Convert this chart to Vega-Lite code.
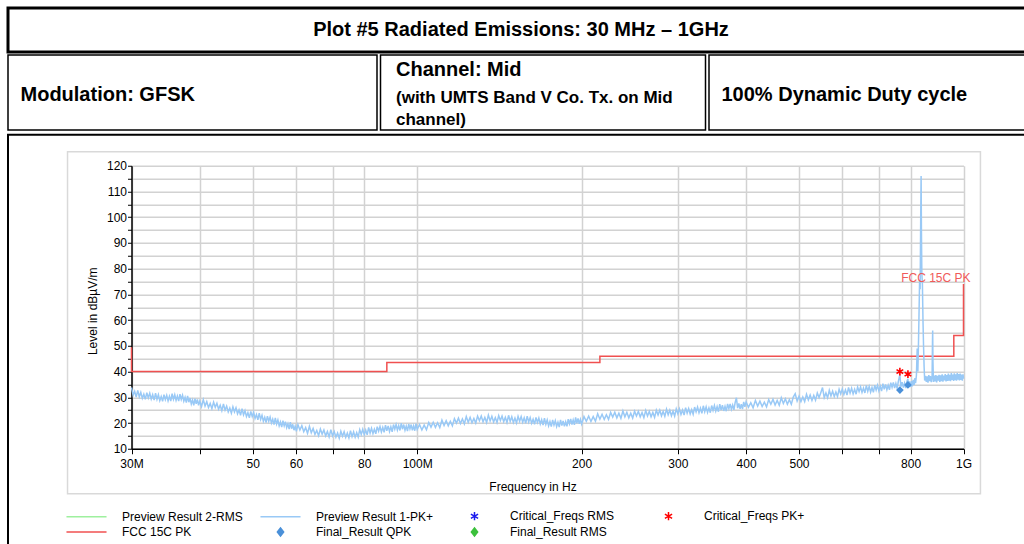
{
  "$schema": "https://vega.github.io/schema/vega-lite/v6.json",
  "usermeta": {"embedOptions": {"actions": false}},
  "background": "white",
  "padding": {"left": 6, "top": 6, "right": 0, "bottom": 0},
  "spacing": 2.75,
  "config": {
    "font": "Liberation Sans",
    "view": {"stroke": null},
    "text": {"font": "Liberation Sans", "color": "black"}
  },
  "datasets": {
    "trace": [
      {"MHz":30.0,"dB":33.8},{"MHz":30.2,"dB":30.8},{"MHz":30.4,"dB":32.3},{"MHz":30.6,"dB":30.1},{"MHz":30.8,"dB":32.7},{"MHz":31.0,"dB":30.2},{"MHz":31.2,"dB":31.9},{"MHz":31.4,"dB":29.6},{"MHz":31.6,"dB":31.2},{"MHz":31.8,"dB":29.2},{"MHz":32.0,"dB":31.8},{"MHz":32.2,"dB":29.8},{"MHz":32.4,"dB":31.6},{"MHz":32.6,"dB":29.3},{"MHz":32.8,"dB":31.0},{"MHz":33.0,"dB":28.9},{"MHz":33.2,"dB":31.6},{"MHz":33.4,"dB":29.2},{"MHz":33.6,"dB":31.0},{"MHz":33.8,"dB":28.7},{"MHz":34.0,"dB":30.3},{"MHz":34.2,"dB":28.4},{"MHz":34.4,"dB":31.0},{"MHz":34.6,"dB":29.1},{"MHz":34.8,"dB":30.8},{"MHz":35.0,"dB":28.6},{"MHz":35.2,"dB":30.4},{"MHz":35.4,"dB":28.5},{"MHz":35.6,"dB":31.4},{"MHz":35.8,"dB":29.2},{"MHz":36.0,"dB":31.0},{"MHz":36.2,"dB":28.8},{"MHz":36.4,"dB":30.5},{"MHz":36.6,"dB":28.5},{"MHz":36.8,"dB":31.2},{"MHz":37.0,"dB":29.2},{"MHz":37.2,"dB":30.8},{"MHz":37.4,"dB":28.5},{"MHz":37.6,"dB":30.0},{"MHz":37.8,"dB":27.9},{"MHz":38.0,"dB":30.5},{"MHz":38.2,"dB":28.1},{"MHz":38.4,"dB":29.7},{"MHz":38.6,"dB":27.4},{"MHz":38.8,"dB":28.9},{"MHz":39.0,"dB":26.9},{"MHz":39.2,"dB":29.5},{"MHz":39.4,"dB":27.5},{"MHz":39.6,"dB":29.2},{"MHz":39.8,"dB":26.9},{"MHz":40.0,"dB":28.5},
      {"MHz":40.3,"dB":26.4},{"MHz":40.6,"dB":29.1},{"MHz":40.9,"dB":26.6},{"MHz":41.2,"dB":28.3},{"MHz":41.5,"dB":26.0},{"MHz":41.8,"dB":27.6},{"MHz":42.1,"dB":25.6},{"MHz":42.4,"dB":28.1},{"MHz":42.7,"dB":26.1},{"MHz":43.0,"dB":27.7},{"MHz":43.3,"dB":25.4},{"MHz":43.6,"dB":26.9},{"MHz":43.9,"dB":24.8},{"MHz":44.2,"dB":27.4},{"MHz":44.5,"dB":25.0},{"MHz":44.8,"dB":26.6},{"MHz":45.1,"dB":24.3},{"MHz":45.4,"dB":25.8},{"MHz":45.7,"dB":23.8},{"MHz":46.0,"dB":26.3},{"MHz":46.3,"dB":24.3},{"MHz":46.6,"dB":25.9},{"MHz":46.9,"dB":23.6},{"MHz":47.2,"dB":25.1},{"MHz":47.5,"dB":23.0},{"MHz":47.8,"dB":25.6},{"MHz":48.1,"dB":23.2},{"MHz":48.4,"dB":24.8},{"MHz":48.7,"dB":22.5},{"MHz":49.0,"dB":24.0},{"MHz":49.3,"dB":22.0},{"MHz":49.6,"dB":24.5},{"MHz":49.9,"dB":22.5},{"MHz":50.2,"dB":24.1},{"MHz":50.5,"dB":21.8},{"MHz":50.8,"dB":23.3},{"MHz":51.1,"dB":21.2},{"MHz":51.4,"dB":23.8},{"MHz":51.7,"dB":21.4},{"MHz":52.0,"dB":23.0},{"MHz":52.3,"dB":20.7},{"MHz":52.6,"dB":22.2},{"MHz":52.9,"dB":20.2},{"MHz":53.2,"dB":22.7},{"MHz":53.5,"dB":20.7},{"MHz":53.8,"dB":22.3},{"MHz":54.1,"dB":20.0},{"MHz":54.4,"dB":21.5},{"MHz":54.7,"dB":19.4},{"MHz":55.0,"dB":22.0},{"MHz":55.3,"dB":19.6},{"MHz":55.6,"dB":21.2},{"MHz":55.9,"dB":18.9},{"MHz":56.2,"dB":20.4},{"MHz":56.5,"dB":18.4},{"MHz":56.8,"dB":20.9},{"MHz":57.1,"dB":18.9},{"MHz":57.4,"dB":20.5},{"MHz":57.7,"dB":18.2},{"MHz":58.0,"dB":19.7},{"MHz":58.3,"dB":17.6},{"MHz":58.6,"dB":20.3},{"MHz":58.9,"dB":17.8},{"MHz":59.2,"dB":19.5},{"MHz":59.5,"dB":17.2},{"MHz":59.8,"dB":18.8},{"MHz":60.1,"dB":16.8},
      {"MHz":60.5,"dB":19.4},{"MHz":61.0,"dB":17.3},{"MHz":61.5,"dB":19.0},{"MHz":62.0,"dB":16.6},{"MHz":62.5,"dB":18.2},{"MHz":63.0,"dB":16.0},{"MHz":63.5,"dB":18.7},{"MHz":64.0,"dB":16.2},{"MHz":64.5,"dB":17.9},{"MHz":65.0,"dB":15.6},{"MHz":65.5,"dB":17.1},{"MHz":66.0,"dB":15.1},{"MHz":66.5,"dB":17.7},{"MHz":67.0,"dB":15.7},{"MHz":67.5,"dB":17.3},{"MHz":68.0,"dB":15.0},{"MHz":68.5,"dB":16.7},{"MHz":69.0,"dB":14.6},{"MHz":69.5,"dB":17.4},{"MHz":70.0,"dB":15.0},{"MHz":70.5,"dB":16.7},{"MHz":71.0,"dB":14.5},{"MHz":71.5,"dB":16.1},{"MHz":72.0,"dB":14.1},{"MHz":72.5,"dB":16.8},{"MHz":73.0,"dB":14.9},{"MHz":73.5,"dB":16.6},{"MHz":74.0,"dB":14.4},{"MHz":74.5,"dB":16.1},{"MHz":75.0,"dB":14.2},{"MHz":75.5,"dB":17.0},{"MHz":76.0,"dB":14.7},{"MHz":76.5,"dB":16.6},{"MHz":77.0,"dB":14.5},{"MHz":77.5,"dB":16.3},{"MHz":78.0,"dB":14.5},{"MHz":78.5,"dB":17.4},{"MHz":79.0,"dB":15.6},{"MHz":79.5,"dB":17.6},{"MHz":80.0,"dB":15.5},{"MHz":80.5,"dB":17.3},{"MHz":81.0,"dB":15.4},{"MHz":81.5,"dB":18.3},{"MHz":82.0,"dB":16.1},{"MHz":82.5,"dB":18.0},{"MHz":83.0,"dB":15.9},{"MHz":83.5,"dB":17.6},{"MHz":84.0,"dB":15.8},{"MHz":84.5,"dB":18.6},{"MHz":85.0,"dB":16.8},{"MHz":85.5,"dB":18.6},{"MHz":86.0,"dB":16.5},{"MHz":86.5,"dB":18.3},{"MHz":87.0,"dB":16.4},{"MHz":87.5,"dB":19.2},{"MHz":88.0,"dB":17.0},{"MHz":88.5,"dB":18.9},{"MHz":89.0,"dB":16.7},{"MHz":89.5,"dB":18.5},{"MHz":90.0,"dB":16.6},{"MHz":90.5,"dB":19.4},{"MHz":91.0,"dB":17.6},{"MHz":91.5,"dB":19.4},{"MHz":92.0,"dB":17.3},{"MHz":92.5,"dB":19.0},{"MHz":93.0,"dB":17.1},{"MHz":93.5,"dB":19.9},{"MHz":94.0,"dB":17.6},{"MHz":94.5,"dB":19.4},{"MHz":95.0,"dB":17.2},{"MHz":95.5,"dB":18.8},{"MHz":96.0,"dB":16.9},{"MHz":96.5,"dB":19.6},{"MHz":97.0,"dB":17.7},{"MHz":97.5,"dB":19.4},{"MHz":98.0,"dB":17.2},{"MHz":98.5,"dB":18.9},{"MHz":99.0,"dB":17.0},{"MHz":99.5,"dB":19.8},{"MHz":100.0,"dB":17.5},
      {"MHz":101,"dB":19.4},{"MHz":102,"dB":17.3},{"MHz":103,"dB":19.2},{"MHz":104,"dB":17.4},{"MHz":105,"dB":20.2},{"MHz":106,"dB":18.4},{"MHz":107,"dB":20.3},{"MHz":108,"dB":18.3},{"MHz":109,"dB":20.1},{"MHz":110,"dB":18.2},{"MHz":111,"dB":21.1},{"MHz":112,"dB":19.0},{"MHz":113,"dB":20.9},{"MHz":114,"dB":18.9},{"MHz":115,"dB":20.7},{"MHz":116,"dB":18.9},{"MHz":117,"dB":21.7},{"MHz":118,"dB":20.0},{"MHz":119,"dB":21.9},{"MHz":120,"dB":19.8},{"MHz":121,"dB":21.6},{"MHz":122,"dB":19.7},{"MHz":123,"dB":22.5},{"MHz":124,"dB":20.3},{"MHz":125,"dB":22.2},{"MHz":126,"dB":20.1},{"MHz":127,"dB":21.8},{"MHz":128,"dB":20.0},{"MHz":129,"dB":22.7},{"MHz":130,"dB":20.9},{"MHz":131,"dB":22.7},{"MHz":132,"dB":20.5},{"MHz":133,"dB":22.2},{"MHz":134,"dB":20.2},{"MHz":135,"dB":23.1},{"MHz":136,"dB":20.8},{"MHz":137,"dB":22.6},{"MHz":138,"dB":20.4},{"MHz":139,"dB":22.1},{"MHz":140,"dB":20.2},{"MHz":141,"dB":22.9},{"MHz":142,"dB":21.0},{"MHz":143,"dB":22.7},{"MHz":144,"dB":20.5},{"MHz":145,"dB":22.2},{"MHz":146,"dB":20.2},{"MHz":147,"dB":23.0},{"MHz":148,"dB":20.6},{"MHz":149,"dB":22.4},{"MHz":150,"dB":20.2},{"MHz":151,"dB":21.9},{"MHz":152,"dB":20.0},{"MHz":153,"dB":22.6},{"MHz":154,"dB":20.7},{"MHz":155,"dB":22.5},{"MHz":156,"dB":20.3},{"MHz":157,"dB":22.0},{"MHz":158,"dB":19.9},{"MHz":159,"dB":22.7},{"MHz":160,"dB":20.4},{"MHz":161,"dB":22.1},{"MHz":162,"dB":19.9},{"MHz":163,"dB":21.5},{"MHz":164,"dB":19.5},{"MHz":165,"dB":22.2},{"MHz":166,"dB":20.2},{"MHz":167,"dB":21.9},{"MHz":168,"dB":19.6},{"MHz":169,"dB":21.3},{"MHz":170,"dB":19.2},{"MHz":171,"dB":21.9},{"MHz":172,"dB":19.5},{"MHz":173,"dB":21.2},{"MHz":174,"dB":18.9},{"MHz":175,"dB":20.6},{"MHz":176,"dB":18.6},{"MHz":177,"dB":21.2},{"MHz":178,"dB":19.2},{"MHz":179,"dB":20.9},{"MHz":180,"dB":18.6},{"MHz":181,"dB":20.3},{"MHz":182,"dB":18.4},{"MHz":183,"dB":21.2},{"MHz":184,"dB":19.0},{"MHz":185,"dB":20.8},{"MHz":186,"dB":18.7},{"MHz":187,"dB":20.5},{"MHz":188,"dB":18.7},{"MHz":189,"dB":21.5},{"MHz":190,"dB":19.7},{"MHz":191,"dB":21.6},{"MHz":192,"dB":19.4},{"MHz":193,"dB":21.2},{"MHz":194,"dB":19.3},{"MHz":195,"dB":22.2},{"MHz":196,"dB":19.9},{"MHz":197,"dB":21.8},{"MHz":198,"dB":19.7},{"MHz":199,"dB":21.4},{"MHz":200,"dB":19.6},
      {"MHz":202,"dB":22.5},{"MHz":204,"dB":20.7},{"MHz":206,"dB":22.7},{"MHz":208,"dB":20.6},{"MHz":210,"dB":22.5},{"MHz":212,"dB":20.7},{"MHz":214,"dB":23.6},{"MHz":216,"dB":21.5},{"MHz":218,"dB":23.4},{"MHz":220,"dB":21.4},{"MHz":222,"dB":23.2},{"MHz":224,"dB":21.4},{"MHz":226,"dB":24.1},{"MHz":228,"dB":22.3},{"MHz":230,"dB":24.2},{"MHz":232,"dB":22.0},{"MHz":234,"dB":23.8},{"MHz":236,"dB":21.8},{"MHz":238,"dB":24.7},{"MHz":240,"dB":22.4},{"MHz":242,"dB":24.2},{"MHz":244,"dB":22.0},{"MHz":246,"dB":23.8},{"MHz":248,"dB":21.9},{"MHz":250,"dB":24.6},{"MHz":252,"dB":22.7},{"MHz":254,"dB":24.5},{"MHz":256,"dB":22.4},{"MHz":258,"dB":24.1},{"MHz":260,"dB":22.1},{"MHz":262,"dB":24.9},{"MHz":264,"dB":22.7},{"MHz":266,"dB":24.5},{"MHz":268,"dB":22.4},{"MHz":270,"dB":24.1},{"MHz":272,"dB":22.2},{"MHz":274,"dB":25.0},{"MHz":276,"dB":23.1},{"MHz":278,"dB":25.0},{"MHz":280,"dB":22.8},{"MHz":282,"dB":24.5},{"MHz":284,"dB":22.6},{"MHz":286,"dB":25.4},{"MHz":288,"dB":23.2},{"MHz":290,"dB":25.0},{"MHz":292,"dB":22.8},{"MHz":294,"dB":24.6},{"MHz":296,"dB":22.7},{"MHz":298,"dB":25.5},{"MHz":300,"dB":23.6},{"MHz":302,"dB":25.5},{"MHz":304,"dB":23.3},{"MHz":306,"dB":25.1},{"MHz":308,"dB":23.1},{"MHz":310,"dB":26.0},{"MHz":312,"dB":23.8},{"MHz":314,"dB":25.6},{"MHz":316,"dB":23.5},{"MHz":318,"dB":25.2},{"MHz":320,"dB":23.4},{"MHz":322,"dB":26.2},{"MHz":324,"dB":24.3},{"MHz":326,"dB":26.2},{"MHz":328,"dB":24.0},{"MHz":330,"dB":25.8},{"MHz":332,"dB":23.8},{"MHz":334,"dB":26.7},{"MHz":336,"dB":24.4},{"MHz":338,"dB":26.3},{"MHz":340,"dB":24.1},{"MHz":342,"dB":25.9},{"MHz":344,"dB":24.0},{"MHz":346,"dB":26.8},{"MHz":348,"dB":24.9},{"MHz":350,"dB":26.8},{"MHz":352,"dB":24.6},{"MHz":354,"dB":26.4},{"MHz":356,"dB":24.4},{"MHz":358,"dB":27.3},{"MHz":360,"dB":25.0},{"MHz":362,"dB":26.9},{"MHz":364,"dB":24.7},{"MHz":366,"dB":26.5},{"MHz":368,"dB":24.6},{"MHz":370,"dB":27.4},{"MHz":372,"dB":25.6},{"MHz":374,"dB":27.4},{"MHz":376,"dB":25.3},{"MHz":378,"dB":27.0},{"MHz":380,"dB":25.1},{"MHz":382,"dB":28.0},{"MHz":384,"dB":29.8},{"MHz":386,"dB":25.8},{"MHz":388,"dB":27.6},{"MHz":390,"dB":25.5},{"MHz":392,"dB":27.3},{"MHz":394,"dB":25.4},{"MHz":396,"dB":28.2},{"MHz":398,"dB":26.3},{"MHz":400,"dB":28.2},
      {"MHz":404,"dB":26.1},{"MHz":408,"dB":27.9},{"MHz":412,"dB":25.9},{"MHz":416,"dB":28.8},{"MHz":420,"dB":26.6},{"MHz":424,"dB":28.5},{"MHz":428,"dB":26.4},{"MHz":432,"dB":28.1},{"MHz":436,"dB":26.3},{"MHz":440,"dB":29.1},{"MHz":444,"dB":27.3},{"MHz":448,"dB":29.2},{"MHz":452,"dB":27.0},{"MHz":456,"dB":28.8},{"MHz":460,"dB":26.9},{"MHz":464,"dB":29.8},{"MHz":468,"dB":27.6},{"MHz":472,"dB":29.4},{"MHz":476,"dB":27.3},{"MHz":480,"dB":29.1},{"MHz":484,"dB":27.3},{"MHz":488,"dB":30.1},{"MHz":492,"dB":31.4},{"MHz":496,"dB":28.5},{"MHz":500,"dB":30.4},{"MHz":504,"dB":28.3},{"MHz":508,"dB":30.1},{"MHz":512,"dB":28.3},{"MHz":516,"dB":31.2},{"MHz":520,"dB":29.0},{"MHz":524,"dB":30.9},{"MHz":528,"dB":28.8},{"MHz":532,"dB":30.7},{"MHz":536,"dB":28.9},{"MHz":540,"dB":31.7},{"MHz":544,"dB":29.9},{"MHz":548,"dB":31.8},{"MHz":552,"dB":33.8},{"MHz":556,"dB":29.9},{"MHz":560,"dB":31.7},{"MHz":564,"dB":29.8},{"MHz":568,"dB":32.7},{"MHz":572,"dB":30.5},{"MHz":576,"dB":32.4},{"MHz":580,"dB":30.3},{"MHz":584,"dB":32.1},{"MHz":588,"dB":30.3},{"MHz":592,"dB":33.1},{"MHz":596,"dB":31.3},{"MHz":600,"dB":33.2},{"MHz":604,"dB":31.1},{"MHz":608,"dB":32.9},{"MHz":612,"dB":30.9},{"MHz":616,"dB":33.8},{"MHz":620,"dB":31.6},{"MHz":624,"dB":33.5},{"MHz":628,"dB":31.3},{"MHz":632,"dB":33.1},{"MHz":636,"dB":31.2},{"MHz":640,"dB":34.0},{"MHz":644,"dB":32.2},{"MHz":648,"dB":34.0},{"MHz":652,"dB":31.9},{"MHz":656,"dB":33.6},{"MHz":660,"dB":31.7},{"MHz":664,"dB":34.6},{"MHz":668,"dB":32.3},{"MHz":672,"dB":34.2},{"MHz":676,"dB":32.0},{"MHz":680,"dB":33.8},{"MHz":684,"dB":31.9},{"MHz":688,"dB":34.7},{"MHz":692,"dB":32.8},{"MHz":696,"dB":34.7},{"MHz":700,"dB":32.5},{"MHz":704,"dB":34.3},{"MHz":708,"dB":32.4},{"MHz":712,"dB":35.3},{"MHz":716,"dB":33.1},{"MHz":720,"dB":35.0},{"MHz":724,"dB":32.9},{"MHz":728,"dB":34.7},{"MHz":732,"dB":32.9},{"MHz":736,"dB":35.7},{"MHz":740,"dB":33.9},{"MHz":744,"dB":35.8},{"MHz":748,"dB":33.6},{"MHz":752,"dB":35.4},{"MHz":756,"dB":33.4},{"MHz":760,"dB":36.3},{"MHz":764.8,"dB":38.8},{"MHz":768,"dB":34.1},{"MHz":772,"dB":35.9},{"MHz":776,"dB":33.8},{"MHz":780,"dB":35.5},{"MHz":784,"dB":33.6},{"MHz":788,"dB":36.3},{"MHz":791.2,"dB":37.2},{"MHz":792,"dB":34.4},{"MHz":796,"dB":36.2},{"MHz":800,"dB":34.0},
      {"MHz":803,"dB":36.3},{"MHz":806,"dB":34.2},{"MHz":809,"dB":36.8},{"MHz":812,"dB":34.8},{"MHz":815,"dB":37.5},{"MHz":817,"dB":35.5},{"MHz":820,"dB":38.5},{"MHz":822.7,"dB":49.0},{"MHz":825,"dB":40},{"MHz":827,"dB":50},{"MHz":829,"dB":62},{"MHz":831,"dB":75},{"MHz":833,"dB":72},{"MHz":835,"dB":100},{"MHz":836.4,"dB":116},{"MHz":837.5,"dB":95},{"MHz":839,"dB":78},{"MHz":841,"dB":74},{"MHz":843,"dB":60},{"MHz":845,"dB":50},{"MHz":847,"dB":42},{"MHz":849,"dB":36.5},
      {"MHz":852,"dB":38.3},{"MHz":855,"dB":36.0},{"MHz":858,"dB":38.1},{"MHz":861,"dB":35.7},{"MHz":864,"dB":38.6},{"MHz":867,"dB":36.3},{"MHz":870,"dB":38.2},{"MHz":873,"dB":35.9},{"MHz":876,"dB":37.8},{"MHz":877.5,"dB":52},{"MHz":878.2,"dB":56},{"MHz":879.2,"dB":44},{"MHz":881,"dB":36.0},{"MHz":884,"dB":38.4},{"MHz":887,"dB":36.2},{"MHz":890,"dB":38.6},{"MHz":893,"dB":35.8},{"MHz":896,"dB":38.3},{"MHz":899,"dB":36.5},{"MHz":902,"dB":38.7},{"MHz":905,"dB":36.0},{"MHz":908,"dB":38.5},{"MHz":911,"dB":36.3},{"MHz":914,"dB":38.9},{"MHz":917,"dB":36.1},{"MHz":920,"dB":38.4},{"MHz":923,"dB":36.6},{"MHz":926,"dB":39.0},{"MHz":929,"dB":36.2},{"MHz":932,"dB":38.6},{"MHz":935,"dB":36.4},{"MHz":938,"dB":39.2},{"MHz":941,"dB":36.5},{"MHz":944,"dB":38.7},{"MHz":947,"dB":36.3},{"MHz":950,"dB":39.4},{"MHz":953,"dB":36.8},{"MHz":956,"dB":38.8},{"MHz":959,"dB":36.4},{"MHz":962,"dB":39.3},{"MHz":965,"dB":36.7},{"MHz":968,"dB":38.9},{"MHz":971,"dB":36.5},{"MHz":974,"dB":39.4},{"MHz":977,"dB":36.9},{"MHz":980,"dB":39.0},{"MHz":983,"dB":36.6},{"MHz":986,"dB":39.2},{"MHz":989,"dB":36.8},{"MHz":992,"dB":38.8},{"MHz":995,"dB":36.5},{"MHz":998,"dB":38.9},{"MHz":1000,"dB":37.2}
    ],
    "limit": [
      {"MHz":30,"dB":49.5},{"MHz":30,"dB":40},{"MHz":88,"dB":40},{"MHz":88,"dB":43.5},{"MHz":216,"dB":43.5},{"MHz":216,"dB":46},{"MHz":960,"dB":46},{"MHz":960,"dB":54},{"MHz":1000,"dB":54},{"MHz":1000,"dB":74}
    ],
    "critpk": [{"MHz":764.8,"dB":40.0},{"MHz":791.2,"dB":39.0}],
    "qpk": [{"MHz":764.8,"dB":32.8},{"MHz":791.2,"dB":34.8}],
    "limitlabel": [{"MHz":1000,"dB":74,"label":"FCC 15C PK"}]
  },
  "vconcat": [
    {
      "spacing": 0,
      "vconcat": [
        {
          "width": 1026, "height": 44,
          "view": {"stroke": "black", "strokeWidth": 3},
          "data": {"values": [{"t": "Plot #5 Radiated Emissions: 30 MHz – 1GHz"}]},
          "mark": {"type": "text", "fontSize": 20, "fontWeight": "bold", "align": "center", "baseline": "middle"},
          "encoding": {"text": {"field": "t", "type": "nominal"}}
        },
        {
          "spacing": 1.5,
          "hconcat": [
            {
              "width": 369, "height": 75,
              "view": {"stroke": "black", "strokeWidth": 1.5},
              "data": {"values": [{"t": "Modulation: GFSK"}]},
              "mark": {"type": "text", "fontSize": 20, "fontWeight": "bold", "align": "left", "baseline": "middle", "dx": -172, "dy": 2},
              "encoding": {"text": {"field": "t", "type": "nominal"}}
            },
            {
              "width": 325, "height": 75,
              "view": {"stroke": "black", "strokeWidth": 1.5},
              "layer": [
                {
                  "data": {"values": [{"t": "Channel: Mid"}]},
                  "mark": {"type": "text", "fontSize": 20, "fontWeight": "bold", "align": "left", "baseline": "middle", "dx": -147, "dy": -23},
                  "encoding": {"text": {"field": "t", "type": "nominal"}}
                },
                {
                  "data": {"values": [{"t": "(with UMTS Band V Co. Tx. on Mid"}]},
                  "mark": {"type": "text", "fontSize": 17, "fontWeight": "bold", "align": "left", "baseline": "middle", "dx": -147, "dy": 5},
                  "encoding": {"text": {"field": "t", "type": "nominal"}}
                },
                {
                  "data": {"values": [{"t": "channel)"}]},
                  "mark": {"type": "text", "fontSize": 17, "fontWeight": "bold", "align": "left", "baseline": "middle", "dx": -147, "dy": 27},
                  "encoding": {"text": {"field": "t", "type": "nominal"}}
                }
              ]
            },
            {
              "width": 326, "height": 75,
              "view": {"stroke": "black", "strokeWidth": 1.5},
              "data": {"values": [{"t": "100% Dynamic Duty cycle"}]},
              "mark": {"type": "text", "fontSize": 20, "fontWeight": "bold", "align": "left", "baseline": "middle", "dx": -150.5, "dy": 2},
              "encoding": {"text": {"field": "t", "type": "nominal"}}
            }
          ]
        }
      ]
    },
    {
      "width": 1026, "height": 415,
      "view": {"stroke": "black", "strokeWidth": 2},
      "resolve": {"scale": {"y": "independent"}, "axis": {"x": "independent", "y": "independent"}},
      "layer": [
        {
          "data": {"values": [{"frame": "panel"}]},
          "mark": {"type": "rect", "fill": "transparent", "stroke": "#d9d9d9", "strokeWidth": 1.5, "invalid": null, "clip": false},
          "encoding": {
            "x": {"datum": 22.91, "type": "quantitative", "axis": null},
            "x2": {"datum": 1074},
            "y": {"datum": 125.44, "type": "quantitative", "axis": null, "scale": {"domain": [10, 120], "range": [314, 31], "nice": false, "zero": false}},
            "y2": {"datum": -7.49}
          }
        },
        {
          "data": {"name": "limit"},
          "mark": {"type": "line", "strokeWidth": 1.5},
          "encoding": {
            "x": {
              "field": "MHz", "type": "quantitative",
              "scale": {"type": "log", "domain": [30, 1000], "range": [123.5, 955.5], "nice": false},
              "axis": {
                "orient": "top", "title": null, "labels": false, "ticks": false, "domain": false,
                "values": [30, 40, 50, 60, 70, 80, 100, 200, 300, 400, 500, 600, 700, 800, 1000],
                "grid": true, "gridColor": "#d2d2d2", "gridWidth": 1.5
              }
            },
            "y": {"field": "dB", "type": "quantitative", "axis": null, "scale": {"domain": [10, 120], "range": [314, 31], "nice": false, "zero": false}},
            "color": {"datum": "FCC 15C PK", "type": "nominal"}
          }
        },
        {
          "data": {"name": "trace"},
          "mark": {"type": "line", "strokeWidth": 1.5},
          "encoding": {
            "x": {
              "field": "MHz", "type": "quantitative", "title": "Frequency in Hz",
              "scale": {"type": "log", "domain": [30, 1000], "range": [123.5, 955.5], "nice": false},
              "axis": {
                "orient": "bottom", "offset": -101,
                "values": [30, 40, 50, 60, 70, 80, 100, 200, 300, 400, 500, 600, 700, 800, 1000],
                "labelExpr": "datum.value == 30 ? '30M' : datum.value == 100 ? '100M' : datum.value == 1000 ? '1G' : (datum.value == 40 || datum.value == 70 || datum.value == 600 || datum.value == 700) ? '' : datum.value + ''",
                "grid": false,
                "domainColor": "black", "domainWidth": 1.5, "tickColor": "black", "tickSize": 5,
                "labelFontSize": 12, "labelColor": "black", "labelPadding": 5, "labelFlush": false, "labelOverlap": false,
                "titleFontSize": 12, "titleFontWeight": "normal", "titleColor": "black",
                "titleX": 524.5, "titleY": 38, "titleAlign": "center", "titleBaseline": "middle"
              }
            },
            "y": {
              "field": "dB", "type": "quantitative", "title": "Level in dBµV/m",
              "scale": {"domain": [10, 120], "range": [314, 31], "nice": false, "zero": false},
              "axis": {
                "orient": "left", "offset": -123.5,
                "values": [10, 15, 20, 25, 30, 35, 40, 45, 50, 55, 60, 65, 70, 75, 80, 85, 90, 95, 100, 105, 110, 115, 120],
                "labelExpr": "datum.value % 10 == 0 ? datum.value + '' : ''",
                "grid": true, "gridColor": "#d2d2d2", "gridWidth": 1.5,
                "domainColor": "black", "domainWidth": 1.5, "tickColor": "black", "tickSize": 4,
                "labelFontSize": 12, "labelColor": "black", "labelPadding": 1, "labelOverlap": false,
                "titleFontSize": 12, "titleFontWeight": "normal", "titleColor": "black",
                "titleX": -39, "titleY": 176, "titleAngle": -90, "titleAlign": "center", "titleBaseline": "middle"
              }
            },
            "color": {
              "datum": "Preview Result 1-PK+", "type": "nominal",
              "scale": {
                "domain": ["Preview Result 2-RMS", "Preview Result 1-PK+", "Critical_Freqs RMS", "Critical_Freqs PK+", "FCC 15C PK", "Final_Result QPK", "Final_Result RMS"],
                "range": ["#9ef09e", "#99c9f6", "#1a1aee", "#ff0000", "#f05050", "#4a90d9", "#3cc03c"]
              },
              "legend": {
                "title": null, "orient": "none", "legendX": 59.5, "legendY": 499.5,
                "direction": "horizontal", "columns": 4, "gridAlign": "all",
                "symbolSize": 225, "symbolOffset": 10.5, "labelOffset": 27, "columnPadding": 13, "rowPadding": -1,
                "labelFontSize": 12, "labelFont": "Liberation Sans", "labelColor": "black", "labelLimit": 300, "padding": 0,
                "encode": {
                  "symbols": {
                    "update": {
                      "shape": {"signal": "indexof(['Preview Result 2-RMS','Preview Result 1-PK+','FCC 15C PK'], datum.value) >= 0 ? 'M-2.67,0H2.67' : (indexof(['Critical_Freqs RMS','Critical_Freqs PK+'], datum.value) >= 0 ? 'M0,-0.55V0.55M-0.48,-0.28L0.48,0.28M-0.48,0.28L0.48,-0.28' : 'M0,-0.55L0.42,0L0,0.55L-0.42,0Z')"},
                      "stroke": {"signal": "scale('color', datum.value)"},
                      "fill": {"signal": "indexof(['Final_Result QPK','Final_Result RMS'], datum.value) >= 0 ? scale('color', datum.value) : 'transparent'"},
                      "strokeWidth": {"value": 1.5},
                      "opacity": {"value": 1}
                    }
                  }
                }
              }
            }
          }
        },
        {
          "data": {"name": "critpk"},
          "mark": {"type": "point", "shape": "M0,-1V1M-0.87,-0.5L0.87,0.5M-0.87,0.5L0.87,-0.5", "size": 60, "filled": false, "strokeWidth": 1.6, "opacity": 1},
          "encoding": {
            "x": {"field": "MHz", "type": "quantitative", "axis": null},
            "y": {"field": "dB", "type": "quantitative", "axis": null, "scale": {"domain": [10, 120], "range": [314, 31], "nice": false, "zero": false}},
            "color": {"datum": "Critical_Freqs PK+", "type": "nominal"}
          }
        },
        {
          "data": {"name": "qpk"},
          "mark": {"type": "point", "shape": "diamond", "size": 60, "filled": true, "opacity": 1},
          "encoding": {
            "x": {"field": "MHz", "type": "quantitative", "axis": null},
            "y": {"field": "dB", "type": "quantitative", "axis": null, "scale": {"domain": [10, 120], "range": [314, 31], "nice": false, "zero": false}},
            "color": {"datum": "Final_Result QPK", "type": "nominal"}
          }
        },
        {
          "data": {"name": "limitlabel"},
          "mark": {"type": "text", "fontSize": 12, "color": "#f05a5a", "align": "right", "baseline": "middle", "dx": 7, "dy": -6},
          "encoding": {
            "x": {"field": "MHz", "type": "quantitative", "axis": null},
            "y": {"field": "dB", "type": "quantitative", "axis": null, "scale": {"domain": [10, 120], "range": [314, 31], "nice": false, "zero": false}},
            "text": {"field": "label", "type": "nominal"}
          }
        }
      ]
    }
  ]
}
